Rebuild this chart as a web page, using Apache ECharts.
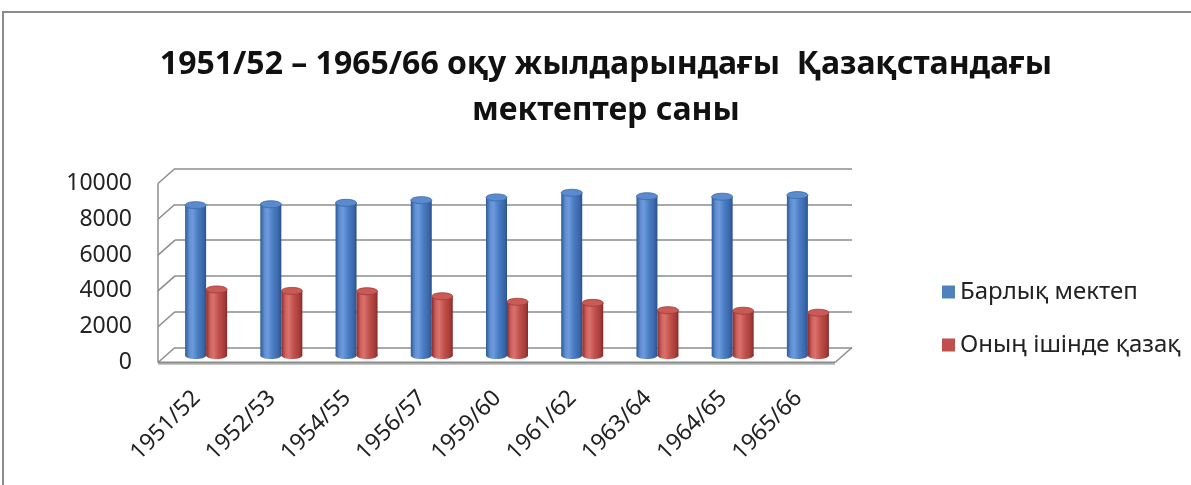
<!DOCTYPE html>
<html>
<head>
<meta charset="utf-8">
<script src="https://cdn.jsdelivr.net/npm/echarts@6/dist/echarts.min.js"></script>
<style>html,body{margin:0;padding:0;background:#fff;}#c{width:1191px;height:485px;}</style>
</head>
<body>
<div id="c"></div>
<script>
const categories = ['1951/52','1952/53','1954/55','1956/57','1959/60','1961/62','1963/64','1964/65','1965/66'];
const allSchools = [8400, 8450, 8530, 8680, 8830, 9090, 8900, 8870, 8960];
const kazakhSchools = [3690, 3610, 3590, 3310, 3000, 2940, 2530, 2500, 2390];
const yTicks = [0, 2000, 4000, 6000, 8000, 10000];
const seriesNames = ['Барлық мектеп', 'Оның ішінде қазақ'];
const titleText = '1951/52 – 1965/66 оқу жылдарындағы  Қазақстандағы\nмектептер саны';

const DX = 17, DY = -15;
const FONT = '"Noto Sans", "DejaVu Sans", sans-serif';

function grad(stops){
  return {type:'linear', x:0, y:0, x2:1, y2:0, colorStops: stops.map(s=>({offset:s[0], color:s[1]}))};
}
const blueBody = grad([[0,'#2c5a96'],[0.2,'#5f8fd2'],[0.35,'#6d9add'],[0.6,'#4b7dc3'],[0.88,'#3865a8'],[1,'#2a5189']]);
const redBody = grad([[0,'#8c2c29'],[0.2,'#d0625e'],[0.35,'#d9716d'],[0.6,'#c1504c'],[0.88,'#a43b38'],[1,'#852926']]);

function cylinder(dx, body, topFill, topStroke){
  return function(params, api){
    const i = api.value(0), v = api.value(1);
    const t = api.coord([i, v]);
    const b = api.coord([i, 0]);
    const w = 21, ry = 3.5, off = -7;
    const cx = t[0] + dx;
    const yt = t[1] + off, yb = b[1] + off;
    return {type:'group', children:[
      {type:'ellipse', shape:{cx:cx, cy:yb, rx:w/2, ry:ry}, style:{fill: body}},
      {type:'rect', shape:{x:cx-w/2, y:yt, width:w, height:yb-yt}, style:{fill: body}},
      {type:'ellipse', shape:{cx:cx, cy:yt, rx:w/2, ry:ry}, style:{fill: topFill, stroke: topStroke, lineWidth:0.8}}
    ]};
  };
}

function frame(params, api){
  const v = api.value(0);
  const band = api.size([1,0])[0];
  const p = api.coord([0, v]);
  const x0 = p[0] - band/2;
  const children = [];
  const lineStyle = {stroke:'#8c8c8c', lineWidth:1.5};
  children.push({type:'line', shape:{x1:x0, y1:p[1], x2:x0+DX, y2:p[1]+DY}, style:lineStyle});
  if (params.dataIndex === 0) {
    const top = api.coord([0, yTicks[yTicks.length-1]]);
    const last = api.coord([categories.length-1, 0]);
    const x1 = last[0] + band/2;
    children.push({type:'line', shape:{x1:x0, y1:p[1], x2:x0, y2:top[1]}, style:lineStyle});
    children.push({type:'line', shape:{x1:x0, y1:p[1]+1.5, x2:x1, y2:p[1]+1.5}, style:{stroke:'#c8c8c8', lineWidth:2}});
    children.push({type:'line', shape:{x1:x0, y1:p[1], x2:x1, y2:p[1]}, style:{stroke:'#8c8c8c', lineWidth:2}});
    children.push({type:'line', shape:{x1:x1, y1:p[1], x2:x1+DX, y2:p[1]+DY}, style:lineStyle});
  }
  return {type:'group', children:children};
}

const chart = echarts.init(document.getElementById('c'), null, {renderer:'canvas'});
const gridBase = {width:677, height:179};
chart.setOption({
  animation:false,
  backgroundColor:'#fff',
  title:{
    text: titleText, left: 601, top: 37, textAlign:'center',
    textStyle:{fontFamily:FONT, fontSize:32, fontWeight:'bold', color:'#111', lineHeight:46}
  },
  legend:{
    orient:'vertical', left:937, top:273, itemWidth:13, itemHeight:13, itemGap:25,
    icon:'rect',
    textStyle:{fontFamily:FONT, fontSize:24, color:'#222', lineHeight:28},
    data: seriesNames
  },
  graphic:[{type:'rect', shape:{x:3, y:12, width:1220, height:520}, style:{fill:'none', stroke:'#8a8a8a', lineWidth:2}, silent:true}],
  grid:[
    Object.assign({left:158, top:183.5}, gridBase),
    Object.assign({left:158+DX, top:183.5+DY}, gridBase),
    Object.assign({left:159, top:183.5}, gridBase)
  ],
  xAxis:[
    {gridIndex:0, type:'category', data:categories, axisLine:{show:false}, axisTick:{show:false}, axisLabel:{show:false}},
    {gridIndex:1, type:'category', data:categories, axisLine:{show:false}, axisTick:{show:false}, axisLabel:{show:false}},
    {gridIndex:2, type:'category', data:categories, axisLine:{show:false}, axisTick:{show:false},
      axisLabel:{rotate:45, margin:32, fontFamily:FONT, fontSize:23, color:'#222', interval:0}}
  ],
  yAxis:[
    {gridIndex:0, type:'value', min:0, max:10000, interval:2000, axisLine:{show:false}, axisTick:{show:false}, splitLine:{show:false},
      axisLabel:{margin:26, fontFamily:FONT, fontSize:23, color:'#222', formatter: v => String(v)}},
    {gridIndex:1, type:'value', min:0, max:10000, interval:2000, axisLine:{show:false}, axisTick:{show:false}, axisLabel:{show:false},
      splitLine:{show:true, lineStyle:{color:'#8c8c8c', width:1.5}}},
    {gridIndex:2, type:'value', min:0, max:10000, interval:2000, show:false, splitLine:{show:false}}
  ],
  series:[
    {type:'custom', name:'frame', xAxisIndex:0, yAxisIndex:0, silent:true, z:1,
      data: yTicks.map(v=>[v]), encode:{y:0}, renderItem: frame},
    {type:'custom', name:seriesNames[0], xAxisIndex:0, yAxisIndex:0, z:3,
      itemStyle:{color:'#4f81bd'},
      data: allSchools.map((v,i)=>[i,v]), encode:{x:0, y:1},
      renderItem: cylinder(0, blueBody, '#5a8bcf', '#3a68a8')},
    {type:'custom', name:seriesNames[1], xAxisIndex:0, yAxisIndex:0, z:4,
      itemStyle:{color:'#c0504d'},
      data: kazakhSchools.map((v,i)=>[i,v]), encode:{x:0, y:1},
      renderItem: cylinder(21, redBody, '#c95a56', '#a03a37')}
  ]
});
</script>
</body>
</html>
